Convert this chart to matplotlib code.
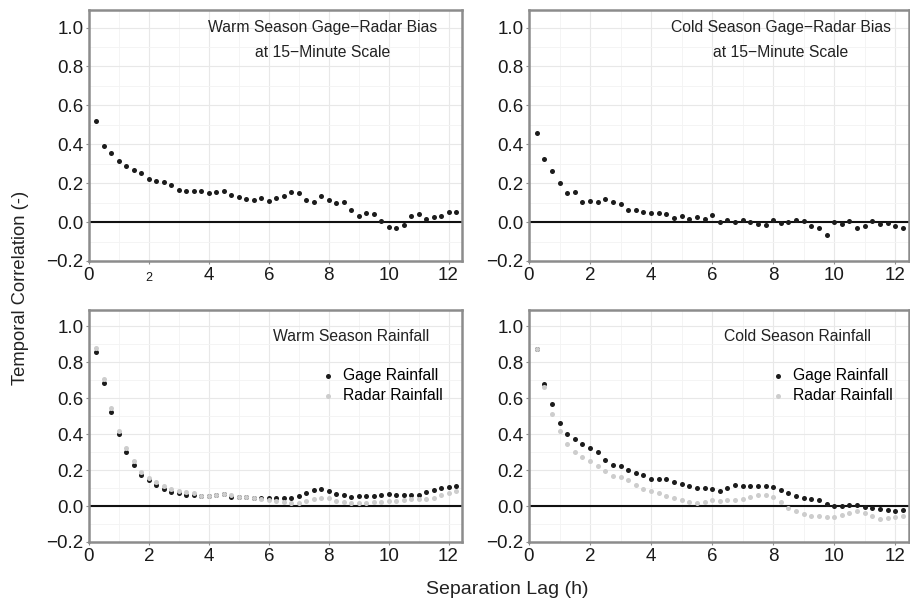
import numpy as np
import matplotlib
matplotlib.use("Agg")
import matplotlib.pyplot as plt
import matplotlib.transforms as mtransforms
from matplotlib.ticker import MultipleLocator

plt.rcParams['font.family'] = ['Liberation Sans', 'DejaVu Sans']

# lag in hours (15-minute steps)
lag = np.arange(1, 50) * 0.25

warm_bias = [0.517, 0.391, 0.353, 0.314, 0.290, 0.266, 0.250, 0.221, 0.210, 0.207,
             0.190, 0.164, 0.160, 0.159, 0.162, 0.150, 0.157, 0.159, 0.140, 0.129,
             0.117, 0.112, 0.122, 0.110, 0.124, 0.134, 0.157, 0.150, 0.114, 0.103,
             0.134, 0.116, 0.097, 0.102, 0.062, 0.031, 0.048, 0.040, 0.005, -0.026,
             -0.031, -0.014, 0.033, 0.041, 0.016, 0.024, 0.029, 0.050, 0.050]

cold_bias = [0.459, 0.322, 0.264, 0.202, 0.147, 0.153, 0.103, 0.110, 0.105, 0.119,
             0.103, 0.093, 0.064, 0.060, 0.050, 0.047, 0.045, 0.043, 0.019, 0.029,
             0.017, 0.024, 0.016, 0.034, 0.003, 0.010, 0.002, 0.009, 0.000, -0.009,
             -0.014, 0.010, -0.007, -0.002, 0.012, 0.005, -0.019, -0.031, -0.064, -0.002,
             -0.010, 0.005, -0.029, -0.019, 0.007, -0.012, -0.005, -0.022, -0.031]

warm_gage = [0.856, 0.685, 0.521, 0.398, 0.298, 0.228, 0.175, 0.144, 0.116, 0.096,
             0.079, 0.070, 0.063, 0.059, 0.055, 0.057, 0.063, 0.066, 0.052, 0.048,
             0.048, 0.044, 0.042, 0.044, 0.044, 0.042, 0.042, 0.057, 0.074, 0.087,
             0.092, 0.085, 0.068, 0.059, 0.050, 0.053, 0.057, 0.057, 0.063, 0.066,
             0.063, 0.063, 0.061, 0.064, 0.076, 0.087, 0.098, 0.105, 0.110]

warm_radar = [0.880, 0.707, 0.543, 0.418, 0.320, 0.249, 0.192, 0.158, 0.134, 0.112,
              0.096, 0.083, 0.077, 0.070, 0.057, 0.057, 0.064, 0.068, 0.063, 0.048,
              0.050, 0.044, 0.039, 0.033, 0.029, 0.020, 0.015, 0.018, 0.029, 0.039,
              0.042, 0.042, 0.029, 0.020, 0.017, 0.018, 0.018, 0.022, 0.024, 0.028,
              0.028, 0.033, 0.037, 0.037, 0.037, 0.046, 0.059, 0.074, 0.083]

cold_gage = [0.871, 0.680, 0.567, 0.464, 0.400, 0.374, 0.343, 0.320, 0.298, 0.256,
             0.228, 0.223, 0.203, 0.186, 0.173, 0.153, 0.149, 0.149, 0.134, 0.125,
             0.112, 0.101, 0.099, 0.092, 0.085, 0.099, 0.116, 0.112, 0.110, 0.112,
             0.112, 0.105, 0.088, 0.070, 0.057, 0.044, 0.037, 0.031, 0.013, 0.000,
             -0.002, 0.004, 0.004, -0.007, -0.013, -0.015, -0.020, -0.029, -0.022]

cold_radar = [0.871, 0.663, 0.514, 0.418, 0.343, 0.298, 0.273, 0.252, 0.223, 0.193,
              0.169, 0.162, 0.142, 0.118, 0.096, 0.085, 0.070, 0.055, 0.046, 0.035,
              0.020, 0.017, 0.022, 0.031, 0.028, 0.031, 0.033, 0.041, 0.050, 0.061,
              0.063, 0.048, 0.020, -0.011, -0.029, -0.046, -0.053, -0.057, -0.061, -0.059,
              -0.048, -0.037, -0.029, -0.037, -0.057, -0.070, -0.066, -0.061, -0.053]

x_ticks = [0, 2, 4, 6, 8, 10, 12]
y_ticks = [-0.2, 0.0, 0.2, 0.4, 0.6, 0.8, 1.0]

GAGE = '#1c1c1c'
RADAR = '#cdcdcd'
FRAME = '#8c8c8c'

fig = plt.figure(figsize=(9.1, 6.06), dpi=100)
W, H = 910, 606

def make_ax(l, r, t, b):
    return fig.add_axes([l / W, 1 - b / H, (r - l) / W, (b - t) / H])

ax_tl = make_ax(89, 462, 10, 261)
ax_tr = make_ax(529, 909, 10, 261)
ax_bl = make_ax(89, 462, 310, 542)
ax_br = make_ax(529, 909, 310, 542)

for ax in (ax_tl, ax_tr, ax_bl, ax_br):
    ax.set_xlim(0, 12.45)
    ax.set_ylim(-0.2, 1.09)
    ax.set_xticks(x_ticks)
    ax.set_yticks(y_ticks)
    ax.set_yticklabels(['\u22120.2', '0.0', '0.2', '0.4', '0.6', '0.8', '1.0'])
    ax.xaxis.set_minor_locator(MultipleLocator(1))
    ax.yaxis.set_minor_locator(MultipleLocator(0.1))
    ax.grid(True, which='major', color='#e8e8e8', lw=0.8)
    ax.grid(True, which='minor', color='#f3f3f3', lw=0.6)
    ax.set_axisbelow(True)
    ax.tick_params(which='major', length=2.5, width=0.8, color=FRAME,
                   labelsize=13.5, pad=1.5, labelcolor='#1a1a1a')
    ax.tick_params(which='minor', length=0)
    for s in ax.spines.values():
        s.set_color(FRAME)
        s.set_linewidth(1.8)
    ax.axhline(0, color='#111111', lw=1.5, zorder=2)

# odd small "2" label in the first panel, sitting a bit lower
shift = mtransforms.ScaledTranslation(0, -5 / 100, fig.dpi_scale_trans)
for lab in ax_tl.get_xticklabels():
    if lab.get_text() == '2':
        lab.set_fontsize(9)
        lab.set_transform(lab.get_transform() + shift)

ax_tl.scatter(lag, warm_bias, s=13, color=GAGE, lw=0, zorder=3)
ax_tr.scatter(lag, cold_bias, s=13, color=GAGE, lw=0, zorder=3)

ax_tl.text(0.627, 0.882, 'Warm Season Gage\u2212Radar Bias\nat 15\u2212Minute Scale',
           transform=ax_tl.transAxes, ha='center', va='center', fontsize=11.3,
           linespacing=1.85, color='#222222')
ax_tr.text(0.663, 0.882, 'Cold Season Gage\u2212Radar Bias\nat 15\u2212Minute Scale',
           transform=ax_tr.transAxes, ha='center', va='center', fontsize=11.3,
           linespacing=1.85, color='#222222')

for ax, g, r, title, tx, lx in ((ax_bl, warm_gage, warm_radar, 'Warm Season Rainfall',
                                 (273 - 89) / 373, 0.625),
                                (ax_br, cold_gage, cold_radar, 'Cold Season Rainfall',
                                 (724 - 529) / 380, 0.64)):
    ax.scatter(lag, g, s=13, color=GAGE, lw=0, zorder=3, label='Gage Rainfall')
    ax.scatter(lag, r, s=13, color=RADAR, lw=0, zorder=3, label='Radar Rainfall')
    ax.text(tx, 0.885, title, transform=ax.transAxes, ha='left', va='center',
            fontsize=11.3, color='#222222')
    ax.legend(loc='upper left', bbox_to_anchor=(lx, 0.748), frameon=False,
              fontsize=11.3, borderpad=0, borderaxespad=0, handlelength=0.8,
              handletextpad=0.55, labelspacing=0.3, markerscale=1.0)

fig.text(21 / W, 1 - 288 / H, 'Temporal Correlation (-)', rotation=90,
         ha='center', va='center', fontsize=13.2, color='#222222')
fig.text(507 / W, 1 - 590 / H, 'Separation Lag (h)', ha='center', va='center',
         fontsize=14, color='#222222')

fig.savefig('out.png', dpi=100)
